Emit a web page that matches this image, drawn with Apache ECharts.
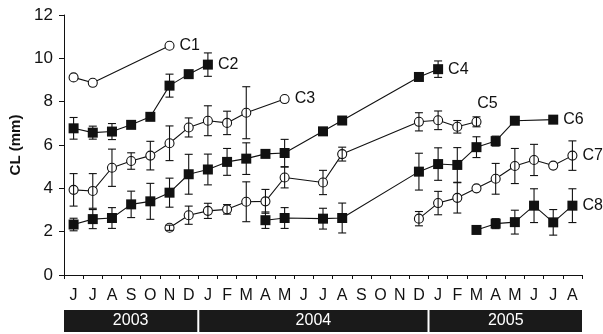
<!DOCTYPE html>
<html>
<head>
<meta charset="utf-8">
<script src="https://cdn.jsdelivr.net/npm/echarts@6/dist/echarts.min.js"></script>
<style>
  html, body { margin: 0; padding: 0; background: #fff; }
  #chart { width: 603px; height: 334px; }
</style>
</head>
<body>
<div id="chart"></div>
<script>
// month ticks, Jun 2003 .. Aug 2005
const months = ["J","J","A","S","O","N","D",
  "J","F","M","A","M","J","J","A","S","O","N","D",
  "J","F","M","A","M","J","J","A"];
// year bands: label, first month index, last month index
const years = [["2003", 0, 6], ["2004", 7, 18], ["2005", 19, 26]];

const yTicks = [0, 2, 4, 6, 8, 10, 12];

// CL (mm) per month, null = no sample
const c1 = [9.12, 8.87, null, null, null, 10.58];
const c2 = [6.77, 6.57, 6.62, 6.93, 7.3, 8.74, 9.27, 9.71];
const c3 = [3.93, 3.88, 4.95, 5.26, 5.51, 6.08, 6.81, 7.12, 7.02, 7.49, null, 8.12];
const c4 = [2.33, 2.58, 2.63, 3.26, 3.4, 3.8, 4.65, 4.87, 5.22, 5.37, 5.59, 5.63, null,
  6.63, 7.13, null, null, null, 9.14, 9.5];
const c5 = [null, null, null, null, null, 2.18, 2.76, 2.96, 3.03, 3.38, 3.4, 4.5, null,
  4.27, 5.58, null, null, null, 7.07, 7.14, 6.84, 7.07];
const c6 = [null, null, null, null, null, null, null, null, null, null, 2.53, 2.63, null,
  2.6, 2.63, null, null, null, 4.77, 5.12, 5.08, 5.9, 6.18, 7.12, null, 7.17];
const c7 = [null, null, null, null, null, null, null, null, null, null, null, null, null,
  null, null, null, null, null, 2.6, 3.32, 3.56, 4.0, 4.44, 5.03, 5.31, 5.05, 5.51];
const c8 = [null, null, null, null, null, null, null, null, null, null, null, null, null,
  null, null, null, null, null, null, null, null, 2.08, 2.37, 2.44, 3.2, 2.43, 3.2];

// +/- error per point (0 = no bar)
const e1 = [0, 0, 0, 0, 0, 0];
const e2 = [0.5, 0.3, 0.37, 0, 0, 0.53, 0, 0.54];
const e3 = [0.75, 0.8, 0.86, 0.38, 0.66, 0.8, 0.44, 0.69, 0.54, 1.2, 0, 0];
const e4 = [0.29, 0.44, 0.48, 0.61, 0.83, 0.67, 0.92, 0.71, 0.62, 0.73, 0, 0.63, 0,
  0, 0, 0, 0, 0, 0, 0.38];
const e5 = [0, 0, 0, 0, 0, 0.12, 0.42, 0.35, 0.22, 0.92, 0.55, 0.48, 0,
  0.56, 0.32, 0, 0, 0, 0.42, 0.43, 0.29, 0.23];
const e6 = [0, 0, 0, 0, 0, 0, 0, 0, 0, 0, 0.38, 0.48, 0,
  0.48, 0.69, 0, 0, 0, 0.85, 0.75, 0.8, 0.48, 0.23, 0, 0, 0];
const e7 = [0, 0, 0, 0, 0, 0, 0, 0, 0, 0, 0, 0, 0,
  0, 0, 0, 0, 0, 0.33, 0.54, 0.7, 0, 0.71, 0.81, 0.72, 0, 0.68];
const e8 = [0, 0, 0, 0, 0, 0, 0, 0, 0, 0, 0, 0, 0,
  0, 0, 0, 0, 0, 0, 0, 0, 0, 0.23, 0.55, 0.78, 0.59, 0.78];

const cohorts = [
  { name: "C1", vals: c1, errs: e1, open: true },
  { name: "C2", vals: c2, errs: e2, open: false },
  { name: "C3", vals: c3, errs: e3, open: true },
  { name: "C4", vals: c4, errs: e4, open: false },
  { name: "C5", vals: c5, errs: e5, open: true, labelTop: true },
  { name: "C6", vals: c6, errs: e6, open: false },
  { name: "C7", vals: c7, errs: e7, open: true },
  { name: "C8", vals: c8, errs: e8, open: false }
];

const FONT = "'Liberation Sans', Arial, sans-serif";
const chart = echarts.init(document.getElementById("chart"), null, { renderer: "canvas" });

function lineSeries(c) {
  const last = c.vals.length - 1;
  const data = c.vals.map((v, i) => {
    if (i !== last) return v;
    const label = c.labelTop
      ? { show: true, position: "top", offset: [11, -1], distance: 4 }
      : { show: true, position: "right", distance: 5 };
    return { value: v, label: Object.assign(label, {
      formatter: c.name, color: "#111", fontSize: 16, fontFamily: FONT }) };
  });
  return {
    name: c.name,
    type: "line",
    data: data,
    connectNulls: true,
    symbol: c.open ? "circle" : "rect",
    symbolSize: c.open ? 9 : 10,
    showSymbol: true,
    lineStyle: { color: "#111", width: 1.1 },
    itemStyle: c.open
      ? { color: "#fff", borderColor: "#111", borderWidth: 1.1 }
      : { color: "#111", borderWidth: 0 },
    emphasis: { disabled: true },
    z: 2
  };
}

function errSeries(c) {
  const data = [];
  c.vals.forEach((v, i) => {
    const e = c.errs[i];
    if (v == null || !e) return;
    data.push([i, v - e, v + e]);
  });
  return {
    type: "custom",
    data: data,
    z: 3,
    silent: true,
    renderItem: function (params, api) {
      const lo = api.coord([api.value(0), api.value(1)]);
      const hi = api.coord([api.value(0), api.value(2)]);
      const w = 4;
      const st = { stroke: "#111", lineWidth: 1.1 };
      return {
        type: "group",
        children: [
          { type: "line", shape: { x1: lo[0], y1: lo[1], x2: hi[0], y2: hi[1] }, style: st },
          { type: "line", shape: { x1: lo[0] - w, y1: lo[1], x2: lo[0] + w, y2: lo[1] }, style: st },
          { type: "line", shape: { x1: hi[0] - w, y1: hi[1], x2: hi[0] + w, y2: hi[1] }, style: st }
        ]
      };
    }
  };
}

const series = [];
cohorts.forEach(c => series.push(lineSeries(c)));
cohorts.forEach(c => series.push(errSeries(c)));

chart.setOption({
  animation: false,
  backgroundColor: "#fff",
  grid: { left: 64, right: 21, top: 15, bottom: 59, containLabel: false },
  xAxis: {
    type: "category",
    data: months,
    boundaryGap: true,
    axisLine: { lineStyle: { color: "#111", width: 1 } },
    axisTick: { show: true, length: 4, lineStyle: { color: "#111" } },
    axisLabel: { color: "#111", fontSize: 16, fontFamily: FONT, margin: 13, interval: 0 },
    splitLine: { show: false }
  },
  yAxis: {
    type: "value",
    min: yTicks[0],
    max: yTicks[yTicks.length - 1],
    interval: 2,
    name: "CL (mm)",
    nameLocation: "middle",
    nameGap: 38,
    nameTextStyle: { color: "#111", fontSize: 15, fontWeight: "bold", fontFamily: FONT },
    axisLine: { show: true, lineStyle: { color: "#111", width: 1 } },
    axisTick: { show: true, length: 5, lineStyle: { color: "#111" } },
    axisLabel: { color: "#111", fontSize: 17, fontFamily: FONT, margin: 11 },
    splitLine: { show: false }
  },
  series: series
});

// year bands under the month labels, placed from the x scale
function drawYears() {
  const p0 = chart.convertToPixel({ xAxisIndex: 0 }, 0);
  const p1 = chart.convertToPixel({ xAxisIndex: 0 }, 1);
  const half = (p1 - p0) / 2;
  const elements = years.map(([label, a, b], k) => {
    const x0 = chart.convertToPixel({ xAxisIndex: 0 }, a) - half + (k === 0 ? 0 : 1);
    const x1 = chart.convertToPixel({ xAxisIndex: 0 }, b) + half - (k === years.length - 1 ? 0 : 1);
    return {
      type: "group",
      children: [
        { type: "rect", shape: { x: x0, y: 310, width: x1 - x0, height: 22 },
          style: { fill: "#1a1a1a" } },
        { type: "text", x: (x0 + x1) / 2, y: 321,
          style: { text: label, fill: "#fff", fontSize: 16, fontFamily: FONT,
            align: "center", verticalAlign: "middle" } }
      ]
    };
  });
  chart.setOption({ graphic: elements });
}
drawYears();
</script>
</body>
</html>
